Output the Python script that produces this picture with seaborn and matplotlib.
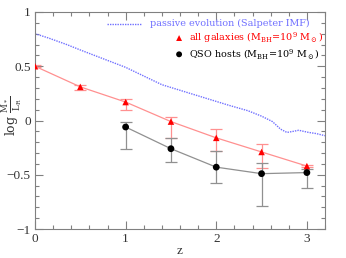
import numpy as np
import pandas as pd
import matplotlib
matplotlib.use("Agg")
import matplotlib.pyplot as plt
import seaborn as sns
from matplotlib.ticker import MultipleLocator, FuncFormatter

sns.set_theme(style="ticks")
plt.rcParams['font.family'] = ['Liberation Serif', 'DejaVu Serif']
plt.rcParams['mathtext.fontset'] = 'dejavuserif'

# passive evolution (Salpeter IMF)
passive_z = [0.0, 0.15, 0.35, 0.5, 0.75, 1.0, 1.2, 1.4, 1.75, 2.14, 2.35, 2.5, 2.62, 2.71, 2.78, 2.85, 2.91, 3.02, 3.1, 3.2]
passive_y = [0.80, 0.76, 0.70, 0.65, 0.57, 0.49, 0.41, 0.33, 0.24, 0.14, 0.09, 0.04, -0.01, -0.08, -0.11, -0.10, -0.09, -0.11, -0.12, -0.14]

# all galaxies
gal_z = [0.0, 0.5, 1.0, 1.5, 2.0, 2.5, 3.0]
gal_y = [0.50, 0.31, 0.17, -0.01, -0.16, -0.29, -0.42]
gal_lo = [0.49, 0.28, 0.10, -0.16, -0.28, -0.44, -0.43]
gal_hi = [0.51, 0.33, 0.20, 0.03, -0.08, -0.22, -0.41]

# QSO hosts
qso_z = [1.0, 1.5, 2.0, 2.5, 3.0]
qso_y = [-0.06, -0.26, -0.43, -0.49, -0.48]
qso_lo = [-0.26, -0.38, -0.58, -0.79, -0.62]
qso_hi = [-0.01, -0.16, -0.28, -0.39, -0.45]

df_p = pd.DataFrame({'z': passive_z, 'y': passive_y})
df_g = pd.DataFrame({'z': gal_z, 'y': gal_y})
df_q = pd.DataFrame({'z': qso_z, 'y': qso_y})

fig = plt.figure(figsize=(3.46, 2.58), dpi=100)
ax = fig.add_axes([35/346, 1-229/258, 290/346, 217/258])

blue = '#7070ff'
red_line = '#ff9090'
red = '#ff0000'
grey = '#909090'

sns.lineplot(data=df_p, x='z', y='y', ax=ax, color=blue, lw=1.0, linestyle=(0, (1, 0.8)))
sns.lineplot(data=df_g, x='z', y='y', ax=ax, color=red_line, lw=0.9)
sns.lineplot(data=df_q, x='z', y='y', ax=ax, color=grey, lw=0.9)

g = np.array(gal_y)
ax.errorbar(gal_z, gal_y, yerr=[g - np.array(gal_lo), np.array(gal_hi) - g], fmt='none',
            ecolor=red_line, elinewidth=0.9, capsize=4, capthick=0.9, zorder=2)
q = np.array(qso_y)
ax.errorbar(qso_z, qso_y, yerr=[q - np.array(qso_lo), np.array(qso_hi) - q], fmt='none',
            ecolor=grey, elinewidth=0.9, capsize=4, capthick=0.9, zorder=2)

sns.scatterplot(data=df_g, x='z', y='y', ax=ax, marker='^', s=22, color=red, edgecolor='none', zorder=4)
sns.scatterplot(data=df_q, x='z', y='y', ax=ax, marker='o', s=24, color='black', edgecolor='none', zorder=4)

ax.set_xlim(0, 3.2)
ax.set_ylim(-1, 1)
ax.xaxis.set_major_locator(MultipleLocator(1))
ax.xaxis.set_minor_locator(MultipleLocator(0.2))
ax.yaxis.set_major_locator(MultipleLocator(0.5))
ax.yaxis.set_minor_locator(MultipleLocator(0.1))

def fmt_y(v, pos):
    if abs(v) < 1e-9:
        return '0'
    if abs(v - round(v)) < 1e-9:
        return '%d' % round(v) if v > 0 else '\u2212%d' % round(-v)
    return ('%g' % v).replace('-', '\u2212')
ax.yaxis.set_major_formatter(FuncFormatter(fmt_y))
ax.xaxis.set_major_formatter(FuncFormatter(lambda v, p: '%d' % round(v)))

ax.tick_params(which='both', direction='in', top=True, right=True, colors='#808080',
               labelcolor='#333333', labelsize=9.5, width=0.8)
ax.tick_params(which='major', length=6, pad=3)
ax.tick_params(which='minor', length=3)
for s in ax.spines.values():
    s.set_color('#808080')
    s.set_linewidth(0.8)

ax.set_xlabel('z', fontsize=9.5, color='#333333', labelpad=0)
ax.set_ylabel('')
fig.text(12/346, 1-116/258, r'$\log\,\frac{\mathrm{M}_*}{\mathrm{L}_\mathrm{R}}$', rotation=90,
         fontsize=9, color='#333333', ha='center', va='center')

# legend
ax.plot([0.79, 1.18], [0.89, 0.89], color=blue, lw=1.0, linestyle=(0, (1, 0.8)))
ax.text(1.27, 0.89, 'passive evolution (Salpeter IMF)', color=blue, fontsize=6.9, va='center',
        family=['DejaVu Serif'])
ax.scatter([1.59], [0.76], marker='^', s=18, color=red, edgecolor='none')
ax.text(1.70, 0.76, r'all galaxies (M$_{\rm BH}$=10$^9$ M$_\odot$)', color=red, fontsize=6.9, va='center',
        family=['DejaVu Serif'])
ax.scatter([1.59], [0.61], marker='o', s=18, color='black', edgecolor='none')
ax.text(1.70, 0.61, r'QSO hosts (M$_{\rm BH}$=10$^9$ M$_\odot$)', color='black', fontsize=6.9, va='center',
        family=['DejaVu Serif'])

fig.savefig('out.png', dpi=100)
